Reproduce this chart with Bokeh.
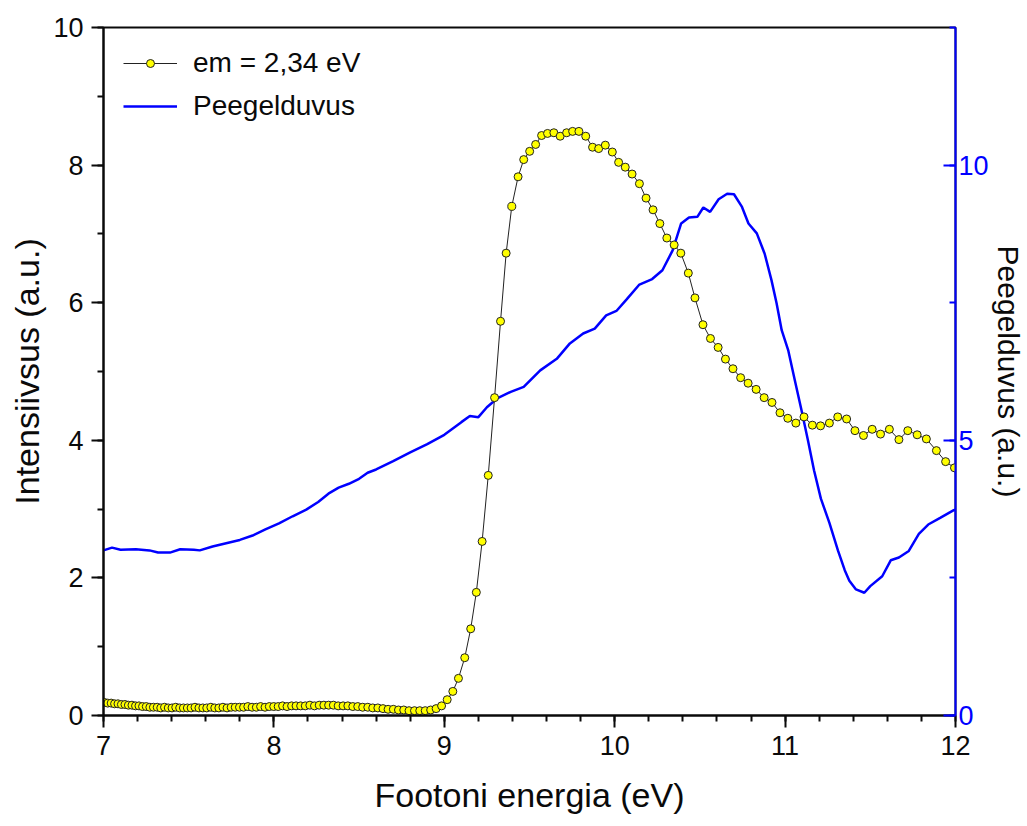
from bokeh.plotting import figure
from bokeh.models import (LinearAxis, Range1d, SingleIntervalTicker, Legend,
                          LegendItem)
from bokeh.embed import file_html
from bokeh.resources import INLINE

# ---- emission intensity (em = 2,34 eV), left axis ----
em_energy = [
    7.005, 7.025, 7.045, 7.065, 7.085, 7.105, 7.126, 7.146, 7.167, 7.188,
    7.208, 7.229, 7.251, 7.272, 7.293, 7.315, 7.336, 7.358, 7.380, 7.402,
    7.424, 7.447, 7.469, 7.492, 7.514, 7.537, 7.560, 7.583, 7.606, 7.630,
    7.653, 7.677, 7.701, 7.725, 7.749, 7.773, 7.798, 7.822, 7.847, 7.872,
    7.897, 7.922, 7.948, 7.973, 7.999, 8.025, 8.051, 8.077, 8.104, 8.130,
    8.157, 8.184, 8.211, 8.238, 8.266, 8.293, 8.321, 8.349, 8.377, 8.406,
    8.434, 8.463, 8.492, 8.521, 8.551, 8.580, 8.610, 8.640, 8.670, 8.701,
    8.731, 8.762, 8.793, 8.825, 8.856, 8.888, 8.920, 8.952, 8.984, 9.017,
    9.050, 9.083, 9.120, 9.155, 9.188, 9.222, 9.258,
    9.295, 9.330, 9.363, 9.396, 9.433, 9.466, 9.501, 9.536, 9.571, 9.606,
    9.643, 9.680, 9.718, 9.753, 9.790, 9.830, 9.870, 9.906, 9.945, 9.986,
    10.023, 10.062, 10.102, 10.145, 10.184, 10.225, 10.265, 10.306, 10.349, 10.388,
    10.432, 10.471, 10.518, 10.562, 10.607, 10.650, 10.694, 10.739, 10.783, 10.830,
    10.877, 10.923, 10.970, 11.016, 11.063, 11.111, 11.160, 11.208, 11.260, 11.309,
    11.361, 11.410, 11.460, 11.511, 11.560, 11.612, 11.668, 11.720, 11.775, 11.829,
    11.888, 11.942, 11.994,
]
em_intensity = [
    0.19, 0.18, 0.18, 0.17, 0.17, 0.16, 0.16, 0.15, 0.15, 0.14,
    0.14, 0.13, 0.13, 0.12, 0.12, 0.12, 0.11, 0.12, 0.11, 0.11,
    0.12, 0.11, 0.11, 0.11, 0.11, 0.12, 0.11, 0.11, 0.11, 0.12,
    0.11, 0.11, 0.12, 0.11, 0.12, 0.12, 0.12, 0.12, 0.13, 0.12,
    0.12, 0.13, 0.12, 0.13, 0.13, 0.13, 0.14, 0.13, 0.14, 0.14,
    0.14, 0.14, 0.15, 0.14, 0.15, 0.15, 0.15, 0.15, 0.14, 0.14,
    0.14, 0.13, 0.13, 0.12, 0.12, 0.11, 0.11, 0.10, 0.09, 0.09,
    0.08, 0.08, 0.07, 0.07, 0.07, 0.07, 0.08, 0.10, 0.14, 0.23,
    0.35, 0.54, 0.84, 1.26, 1.79, 2.53, 3.49,
    4.62, 5.73, 6.72, 7.40, 7.83, 8.08, 8.20, 8.30, 8.43, 8.46,
    8.47, 8.42, 8.47, 8.49, 8.49, 8.42, 8.26, 8.24, 8.29, 8.19,
    8.04, 7.97, 7.87, 7.73, 7.52, 7.35, 7.15, 6.94, 6.84, 6.72,
    6.43, 6.07, 5.68, 5.48, 5.35, 5.18, 5.04, 4.91, 4.83, 4.74,
    4.62, 4.55, 4.40, 4.32, 4.25, 4.34, 4.22, 4.21, 4.25, 4.34,
    4.31, 4.14, 4.07, 4.16, 4.09, 4.16, 4.01, 4.14, 4.08, 4.02,
    3.85, 3.69, 3.60,
]

# ---- reflectance (Peegelduvus), right axis ----
refl_energy = [
    7.00, 7.05, 7.10, 7.19, 7.27, 7.32, 7.39, 7.45, 7.53, 7.565,
    7.64, 7.72, 7.80, 7.875, 7.95, 8.03, 8.11, 8.19, 8.26, 8.32,
    8.38, 8.44, 8.50, 8.55, 8.60, 8.70, 8.80, 8.90, 9.00, 9.10,
    9.15, 9.20, 9.25, 9.31, 9.39, 9.466, 9.563, 9.66, 9.737, 9.815,
    9.883, 9.95, 10.01, 10.07, 10.145, 10.22, 10.28, 10.34, 10.39, 10.436,
    10.485, 10.52, 10.56, 10.61, 10.66, 10.70, 10.747, 10.785, 10.834, 10.88,
    10.92, 10.95, 10.98, 11.018, 11.057, 11.096, 11.134, 11.17, 11.21, 11.26,
    11.31, 11.35, 11.377, 11.416, 11.465, 11.50, 11.57, 11.62, 11.668, 11.726,
    11.785, 11.84, 11.91, 11.99, 12.00,
]
refl_value = [
    3.00, 3.05, 3.01, 3.02, 3.00, 2.96, 2.96, 3.02, 3.01, 3.00,
    3.07, 3.13, 3.19, 3.27, 3.38, 3.49, 3.62, 3.74, 3.88, 4.03,
    4.14, 4.21, 4.30, 4.41, 4.47, 4.62, 4.78, 4.93, 5.10, 5.33,
    5.44, 5.42, 5.60, 5.76, 5.88, 5.97, 6.27, 6.48, 6.76, 6.94,
    7.03, 7.27, 7.35, 7.56, 7.83, 7.93, 8.09, 8.45, 8.94, 9.05,
    9.06, 9.23, 9.15, 9.38, 9.48, 9.47, 9.24, 8.94, 8.76, 8.39,
    7.91, 7.49, 7.00, 6.64, 6.09, 5.55, 5.00, 4.45, 3.94, 3.50,
    3.00, 2.64, 2.45, 2.29, 2.23, 2.35, 2.53, 2.82, 2.87, 2.99,
    3.30, 3.47, 3.59, 3.73, 3.74,
]

assert len(em_energy) == len(em_intensity)
assert len(refl_energy) == len(refl_value)

FONT = "Liberation Sans"
INK = "#0a0a0a"

p = figure(width=1027, height=826,
           x_range=Range1d(7, 12), y_range=Range1d(0, 10),
           output_backend="svg", toolbar_location=None,
           x_axis_location=None, y_axis_location=None,
           min_border_left=103, min_border_right=65,
           min_border_top=27, min_border_bottom=111)
p.extra_y_ranges = {"refl": Range1d(0, 12.5)}
# frame outline gives the black top border line
p.outline_line_color = INK
p.outline_line_width = 2
p.xgrid.visible = False
p.ygrid.visible = False


def style_axis(ax, color, tick_in, tick_out, minor_in, minor_out):
    ax.axis_line_color = color
    ax.axis_line_width = 2
    ax.major_tick_line_color = color
    ax.minor_tick_line_color = color
    ax.major_tick_line_width = 2
    ax.minor_tick_line_width = 2
    ax.major_tick_in = tick_in
    ax.major_tick_out = tick_out
    ax.minor_tick_in = minor_in
    ax.minor_tick_out = minor_out
    ax.major_label_text_font = FONT
    ax.major_label_text_font_size = "27px"
    ax.major_label_text_color = color
    ax.axis_label_text_font = FONT
    ax.axis_label_text_font_style = "normal"
    ax.axis_label_text_color = INK


# bottom axis
xa = LinearAxis(ticker=SingleIntervalTicker(interval=1, num_minor_ticks=5),
                axis_label="Footoni energia (eV)")
style_axis(xa, INK, 0, 12, 0, 6)
xa.major_label_standoff = 8
xa.axis_label_text_font_size = "34px"
xa.axis_label_standoff = 18
p.add_layout(xa, "below")

# left axis
ya = LinearAxis(ticker=SingleIntervalTicker(interval=2, num_minor_ticks=2),
                axis_label="Intensiivsus (a.u.)")
style_axis(ya, INK, 0, 12, 0, 6)
ya.major_label_standoff = 8
ya.axis_label_text_font_size = "34px"
ya.axis_label_standoff = 4
p.add_layout(ya, "left")

# right axis (blue, ticks inward)
right = LinearAxis(y_range_name="refl",
                   ticker=SingleIntervalTicker(interval=5, num_minor_ticks=2),
                   axis_label="Peegelduvus (a.u.)")
style_axis(right, "#0000FF", 12, 0, 6, 0)
right.major_label_standoff = 3
right.axis_label_text_font_size = "30px"
right.axis_label_standoff = 0
p.add_layout(right, "right")

# glyphs
bline = p.line(refl_energy, refl_value, y_range_name="refl",
               line_color="#0000FF", line_width=2.5)
yline = p.line(em_energy, em_intensity, line_color="#222222", line_width=1)
ymark = p.scatter(em_energy, em_intensity, marker="circle", size=8,
                  fill_color="#FFFF00", line_color="#222222", line_width=1)

legend = Legend(items=[
    LegendItem(label="em = 2,34 eV", renderers=[yline, ymark]),
    LegendItem(label="Peegelduvus", renderers=[bline]),
], location="top_left")
legend.border_line_color = None
legend.background_fill_alpha = 0
legend.margin = 20
legend.padding = 0
legend.spacing = 11
legend.glyph_width = 54
legend.label_standoff = 16
legend.label_text_font = FONT
legend.label_text_font_size = "28px"
legend.label_text_color = INK
p.add_layout(legend)

open("out.html", "w").write(file_html(p, INLINE))
